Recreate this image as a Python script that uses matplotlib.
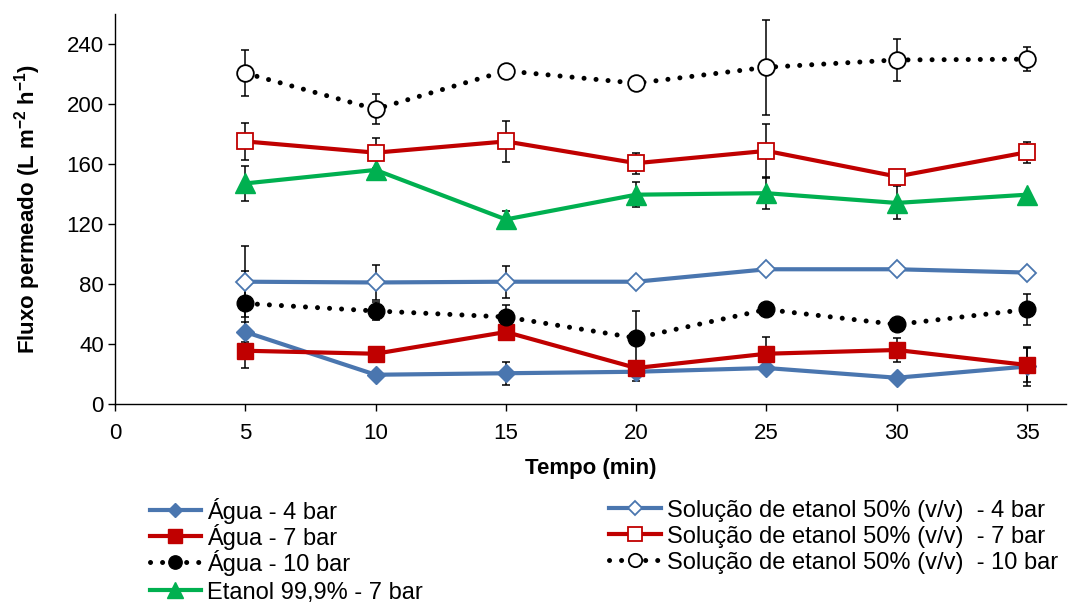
import numpy as np
import matplotlib
matplotlib.use("Agg")
import matplotlib.pyplot as plt

plt.rcParams["font.family"] = ["Liberation Sans", "DejaVu Sans"]
plt.rcParams["mathtext.default"] = "regular"

tempo = [5, 10, 15, 20, 25, 30, 35]

# mean flux per series and its error (0 = no bar drawn)
agua_4 = [48, 19.5, 20.5, 21.5, 24, 17.5, 25]
agua_4_err = [6.7, 0, 7.7, 6, 0, 0, 12.7]
agua_7 = [35.5, 33.5, 48, 24, 33.5, 36, 26]
agua_7_err = [11.2, 0, 0, 0, 11, 8, 11]
agua_10 = [67, 62, 58, 44, 63, 53, 63]
agua_10_err = [21.8, 6, 8.2, 18, 0, 0, 10.5]
etanol_7 = [147, 156, 123, 139.5, 140.5, 134, 139.5]
etanol_7_err = [11.5, 0, 5.5, 8.5, 10.5, 11, 0]
sol_4 = [81.5, 81, 81.5, 81.5, 89.8, 89.8, 87.6]
sol_4_err = [23.7, 11.5, 10.6, 0, 0, 0, 0]
sol_7 = [175, 167.5, 175, 160.5, 168.7, 151.6, 167.8]
sol_7_err = [12.5, 10, 13.6, 7, 18, 0, 7]
sol_10 = [220.5, 196.5, 222, 213.8, 224.4, 229.3, 229.8]
sol_10_err = [15.5, 10, 0, 0, 31.6, 14, 8]

labels = ["Água - 4 bar", "Água - 7 bar", "Água - 10 bar", "Etanol 99,9% - 7 bar",
          "Solução de etanol 50% (v/v)  - 4 bar", "Solução de etanol 50% (v/v)  - 7 bar",
          "Solução de etanol 50% (v/v)  - 10 bar"]

blue = "#4A76AF"
red = "#C00000"
green = "#00B050"
dots = (0, (0.01, 2.4))

series = [
    (agua_4, agua_4_err, dict(color=blue, ls="-", lw=3, marker="D", ms=9.5, mfc=blue, mec=blue)),
    (agua_7, agua_7_err, dict(color=red, ls="-", lw=3, marker="s", ms=12, mfc=red, mec=red)),
    (agua_10, agua_10_err, dict(color="black", ls=dots, lw=3.6, marker="o", ms=12, mfc="black", mec="black")),
    (etanol_7, etanol_7_err, dict(color=green, ls="-", lw=3, marker="^", ms=14, mfc=green, mec=green)),
    (sol_4, sol_4_err, dict(color=blue, ls="-", lw=3, marker="D", ms=9.5, mfc="white", mec=blue, mew=1.3)),
    (sol_7, sol_7_err, dict(color=red, ls="-", lw=3, marker="s", ms=12, mfc="white", mec=red, mew=1.3)),
    (sol_10, sol_10_err, dict(color="black", ls=dots, lw=3.6, marker="o", ms=12, mfc="white", mec="black", mew=1.3)),
]

fs = 16

fig = plt.figure(figsize=(10.68, 6.03), dpi=100)
ax = fig.add_axes([0.1077, 0.33, 0.8905, 0.647])

handles = []
for (y, err, style), lab in zip(series, labels):
    x = np.array(tempo, dtype=float)
    y = np.array(y, dtype=float)
    err = np.array(err, dtype=float)
    m = err > 0
    ax.errorbar(x[m], y[m], yerr=err[m], fmt="none", ecolor="black",
                elinewidth=1.1, capsize=3, capthick=1.1, zorder=1)
    ln, = ax.plot(x, y, dash_capstyle="round", zorder=2, label=lab, **style)
    handles.append(ln)

ax.set_xlim(0, 36.5)
ax.set_ylim(0, 260)
ax.set_xticks(range(0, 40, 5))
ax.set_yticks(range(0, 280, 40))
ax.tick_params(axis="both", direction="out", length=5, width=1, labelsize=fs, colors="black")
ax.tick_params(axis="y", pad=3)
ax.tick_params(axis="x", pad=9)
for side in ["top", "right"]:
    ax.spines[side].set_visible(False)
for side in ["left", "bottom"]:
    ax.spines[side].set_linewidth(1)

ax.set_xlabel("Tempo (min)", fontsize=fs, fontweight="bold", labelpad=10)
ax.set_ylabel("Fluxo permeado (L m$^{-2}$ h$^{-1}$)", fontsize=fs, fontweight="bold", labelpad=17)

# legend laid out as a grid: first four entries left column, the rest right,
# one legend box per entry so every row gets the same pitch
col_x = [0.140, 0.570]
row_y = [0.153, 0.110, 0.067, 0.017]
for i, (h, lab) in enumerate(zip(handles, labels)):
    col, row = (0, i) if i < 4 else (1, i - 4)
    fig.legend(handles=[h], labels=[lab], loc="center left",
               bbox_to_anchor=(col_x[col], row_y[row]), frameon=False, fontsize=17,
               handlelength=2.2, handletextpad=0.25, borderaxespad=0,
               borderpad=0, markerscale=0.8)

fig.savefig("out.png", dpi=100)
